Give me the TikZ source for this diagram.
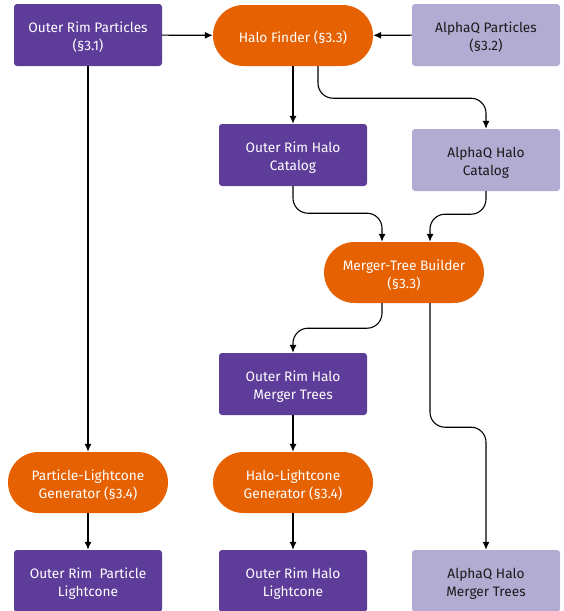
\documentclass[tikz,border=0pt]{standalone}
\usepackage{fontspec}
\setmainfont{Fira Sans}
\usetikzlibrary{shapes.misc,arrows.meta,calc}
\definecolor{dpurple}{HTML}{5E3C99}
\definecolor{lpurple}{HTML}{B2ABD2}
\definecolor{dorange}{HTML}{E66101}
\definecolor{darktext}{HTML}{1A1A1A}
\newcommand\topstrut{\rule{0pt}{15pt}}
\tikzset{
  txt/.style={font=\fontsize{13.7}{18}\selectfont},
  box/.style={rectangle, rounded corners=3pt, minimum width=148pt, minimum height=62pt, inner sep=0pt, align=center, txt},
  dark/.style={box, fill=dpurple, text=white},
  light/.style={box, fill=lpurple, text=darktext},
  pill/.style={rounded rectangle, minimum width=160pt, minimum height=61pt, inner sep=0pt, align=center, fill=dorange, text=white, txt},
  arr/.style={draw=black, line width=1.1pt, -{Latex[length=8pt,width=7pt]}, rounded corners=15pt}
}
\begin{document}
\begin{tikzpicture}[x=1pt,y=-1pt]
\useasboundingbox (0,0) rectangle (563,611);
\node[dark] (orp) at (88,35) {\topstrut Outer Rim Particles\\(§3.1)};
\node[pill] (hf) at (293,35.5) {\topstrut Halo Finder (§3.3)};
\node[light] (aqp) at (486,35) {\topstrut AlphaQ Particles\\(§3.2)};
\node[dark] (orhc) at (293,155) {\topstrut Outer Rim Halo\\Catalog};
\node[light] (aqhc) at (486,160) {\topstrut AlphaQ Halo\\Catalog};
\node[pill] (mtb) at (404,272.5) {\topstrut Merger-Tree Builder\\(§3.3)};
\node[dark] (orhmt) at (293,384) {\topstrut Outer Rim Halo\\Merger Trees};
\node[pill] (plg) at (88,482.5) {\topstrut Particle-Lightcone\\Generator (§3.4)};
\node[pill] (hlg) at (293,482.5) {\topstrut Halo-Lightcone\\Generator (§3.4)};
\node[dark] (orpl) at (88,581) {\topstrut Outer Rim\ \ Particle\\Lightcone};
\node[dark] (orhl) at (293,581) {\topstrut Outer Rim Halo\\Lightcone};
\node[light] (aqhmt) at (486,581) {\topstrut AlphaQ Halo\\Merger Trees};

\draw[arr] (orp) -- (hf);
\draw[arr] (aqp) -- (hf);
\draw[arr] (hf.south) -- (orhc.north);
\draw[arr] ([xshift=25pt]hf.south) -- ++(0,32) -| (aqhc.north);
\draw[arr] (orhc.south) -- ++(0,27) -| ([xshift=-22pt]mtb.north);
\draw[arr] (aqhc.south) -- ++(0,23) -| ([xshift=26pt]mtb.north);
\draw[arr] ([xshift=-22pt]mtb.south) -- ++(0,25) -| (orhmt.north);
\draw[arr] ([xshift=26pt]mtb.south) -- ++(0,124) -| (aqhmt.north);
\draw[arr] (orp.south) -- (plg.north);
\draw[arr] (orhmt.south) -- (hlg.north);
\draw[arr] (plg.south) -- (orpl.north);
\draw[arr] (hlg.south) -- (orhl.north);
\end{tikzpicture}
\end{document}
